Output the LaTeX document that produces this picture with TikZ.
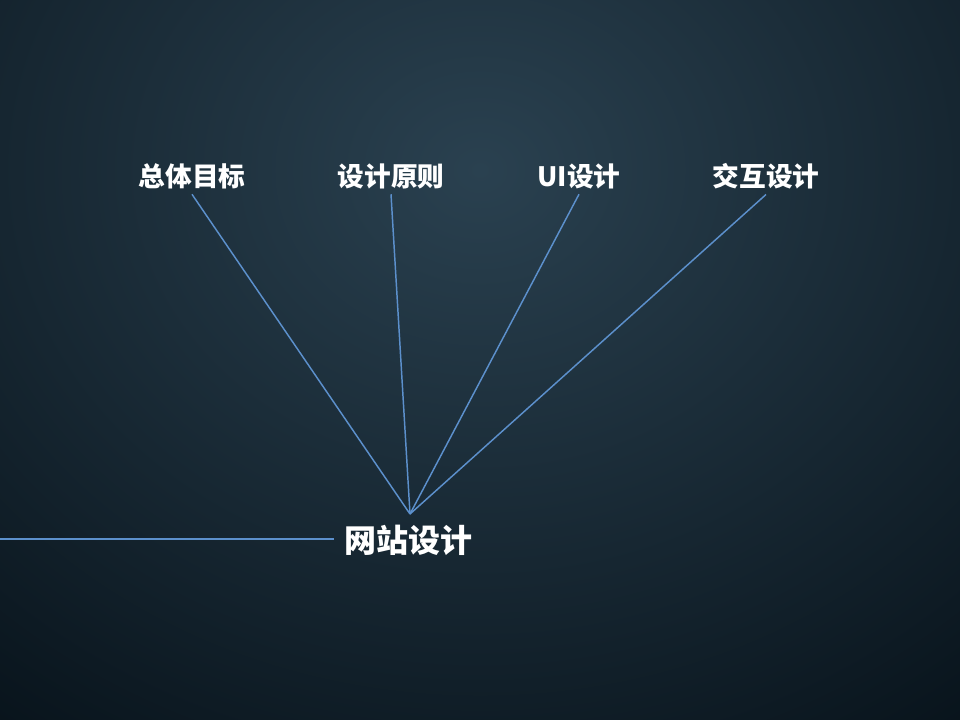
\documentclass[tikz,border=0pt]{standalone}
\usepackage{fontspec}
\newfontfamily\cjk{Noto Sans CJK SC}
\definecolor{bgdark}{HTML}{08131B}
\definecolor{bglight}{HTML}{2A4150}
\definecolor{linkblue}{HTML}{5C90CC}
\tikzset{
  lbl/.style={text=white, font=\cjk\bfseries\fontsize{20pt}{22pt}\selectfont, inner sep=4pt},
  mainlbl/.style={text=white, font=\cjk\bfseries\fontsize{24pt}{26pt}\selectfont, inner sep=7.5pt},
  link/.style={draw=linkblue, line width=1.1pt}
}
\begin{document}
\begin{tikzpicture}[x=0.75pt,y=-0.75pt]
        % Hintergrund
        \useasboundingbox (0,0) rectangle (960,720);
        \clip (0,0) rectangle (960,720);
        \fill[bgdark] (0,0) rectangle (960,720);
        \shade[inner color=bglight, outer color=bgdark] (480,170) ellipse (820 and 700);
        % Knoten
        \node[mainlbl] (site) at (408,540) {网站设计};
        \coordinate (hub) at (410,514);
        \coordinate (leftend) at (0,539);
        \foreach \n/\x/\t in {goal/192/总体目标, rule/391/设计原则,
                              ui/579/UI设计, inter/766/交互设计}{
            \node[lbl] (\n) at (\x,176) {\t};
            \draw[link] (\n.south) -- (hub);
        }
        % Linie links
        \draw[link] (leftend) -- (leftend -| site.west);
\end{tikzpicture}
\end{document}
